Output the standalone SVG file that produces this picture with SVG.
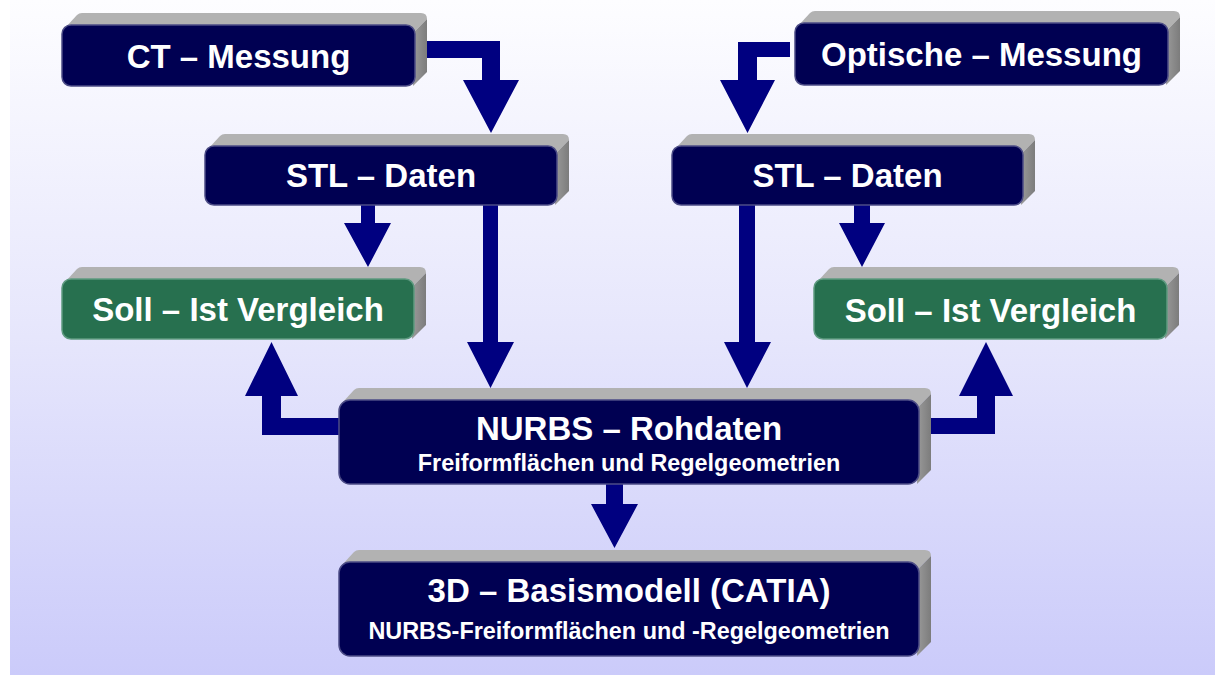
<svg xmlns="http://www.w3.org/2000/svg" width="1215" height="675" viewBox="0 0 1215 675">
  <defs>
    <linearGradient id="bg" x1="0" y1="0" x2="0" y2="1">
      <stop offset="0" stop-color="#fdfdff"/>
      <stop offset="0.5" stop-color="#e6e6fc"/>
      <stop offset="1" stop-color="#cbcbfa"/>
    </linearGradient>
    <linearGradient id="side" x1="0" y1="0" x2="1" y2="0">
      <stop offset="0" stop-color="#9a9a9a"/>
      <stop offset="1" stop-color="#7c7c7c"/>
    </linearGradient>
  </defs>
  <style>
    .top { fill: #b2b2b2; }
    .side { fill: url(#side); }
    .navy { fill: #000052; stroke: #4c4c86; stroke-width: 1.5; }
    .green { fill: #27704f; stroke: #5f9a80; stroke-width: 1.5; }
    .arrow { fill: #000080; }
    .t { font-family: "Liberation Sans", Arial, sans-serif; font-weight: bold; fill: #ffffff; text-anchor: middle; }
    .title { font-size: 33px; }
    .sub { font-size: 23.4px; }
  </style>

  <rect x="10" y="0" width="1205" height="675" fill="url(#bg)"/>

  <g id="connectors">
    <polygon class="arrow" points="420,41 500,41 500,80 519,80 491,133 463,80 482,80 482,58 420,58"/>
    <polygon class="arrow" points="790,42 738,42 738,80 720,80 747.5,133 775,80 757,80 757,57 790,57"/>
    <polygon class="arrow" points="361,200 375,200 375,223 391,223 368,267 344,223 361,223"/>
    <polygon class="arrow" points="483,200 498,200 498,342 514,342 490.5,388 467,342 483,342"/>
    <polygon class="arrow" points="739,200 755,200 755,342 771,342 747,388 724,342 739,342"/>
    <polygon class="arrow" points="854,200 870,200 870,223 885,223 862,267 839,223 854,223"/>
    <polygon class="arrow" points="345,418 281,418 281,396 298,396 271.5,342 245,396 262,396 262,435 345,435"/>
    <polygon class="arrow" points="925,418 977,418 977,396 959,396 986,342 1013,396 995,396 995,434 925,434"/>
    <polygon class="arrow" points="606,480 623,480 623,504 638,504 614.5,548 591,504 606,504"/>
  </g>

  <g id="ct-messung">
    <path class="top" d="M65,28 L77,15 Q79,13 82,13 L421,13 Q427,13 427,19 L415,31 Z"/>
    <path class="side" d="M415,31 L427,19 L427,72 L413,86 Z"/>
    <rect class="navy" x="62" y="25" width="353" height="61" rx="9"/>
    <text class="t title" x="238.5" y="68">CT – Messung</text>
  </g>

  <g id="optische-messung">
    <path class="top" d="M798,26 L810,13 Q812,11 815,11 L1174,11 Q1180,11 1180,17 L1168,29 Z"/>
    <path class="side" d="M1168,29 L1180,17 L1180,71 L1166,85 Z"/>
    <rect class="navy" x="795" y="23" width="373" height="62" rx="9"/>
    <text class="t title" x="981.5" y="66">Optische – Messung</text>
  </g>

  <g id="stl-links">
    <path class="top" d="M208,149 L220,136 Q222,134 225,134 L563,134 Q569,134 569,140 L557,152 Z"/>
    <path class="side" d="M557,152 L569,140 L569,191 L555,205 Z"/>
    <rect class="navy" x="205" y="146" width="352" height="59" rx="9"/>
    <text class="t title" x="381" y="187">STL – Daten</text>
  </g>

  <g id="stl-rechts">
    <path class="top" d="M675,149 L687,136 Q689,134 692,134 L1029,134 Q1035,134 1035,140 L1023,152 Z"/>
    <path class="side" d="M1023,152 L1035,140 L1035,191 L1021,205 Z"/>
    <rect class="navy" x="672" y="146" width="351" height="59" rx="9"/>
    <text class="t title" x="847.5" y="187">STL – Daten</text>
  </g>

  <g id="soll-ist-links">
    <path class="top" d="M65,282 L77,269 Q79,267 82,267 L420,267 Q426,267 426,273 L414,285 Z"/>
    <path class="side" d="M414,285 L426,273 L426,325 L412,339 Z"/>
    <rect class="green" x="62" y="279" width="352" height="60" rx="9"/>
    <text class="t title" x="238" y="321">Soll – Ist Vergleich</text>
  </g>

  <g id="soll-ist-rechts">
    <path class="top" d="M817,282 L829,269 Q831,267 834,267 L1173,267 Q1179,267 1179,273 L1167,285 Z"/>
    <path class="side" d="M1167,285 L1179,273 L1179,325 L1165,339 Z"/>
    <rect class="green" x="814" y="279" width="353" height="60" rx="9"/>
    <text class="t title" x="990.5" y="322">Soll – Ist Vergleich</text>
  </g>

  <g id="nurbs-rohdaten">
    <path class="top" d="M342,403 L354,390 Q356,388 359,388 L925,388 Q931,388 931,394 L919,406 Z"/>
    <path class="side" d="M919,406 L931,394 L931,470 L917,484 Z"/>
    <rect class="navy" x="339" y="400" width="580" height="84" rx="11"/>
    <text class="t title" x="629" y="440">NURBS – Rohdaten</text>
    <text class="t sub" x="629" y="471">Freiformflächen und Regelgeometrien</text>
  </g>

  <g id="basismodell">
    <path class="top" d="M342,565 L354,552 Q356,550 359,550 L925,550 Q931,550 931,556 L919,568 Z"/>
    <path class="side" d="M919,568 L931,556 L931,642 L917,656 Z"/>
    <rect class="navy" x="339" y="562" width="580" height="94" rx="11"/>
    <text class="t title" x="629" y="602">3D – Basismodell (CATIA)</text>
    <text class="t sub" x="629" y="639">NURBS-Freiformflächen und -Regelgeometrien</text>
  </g>
</svg>
